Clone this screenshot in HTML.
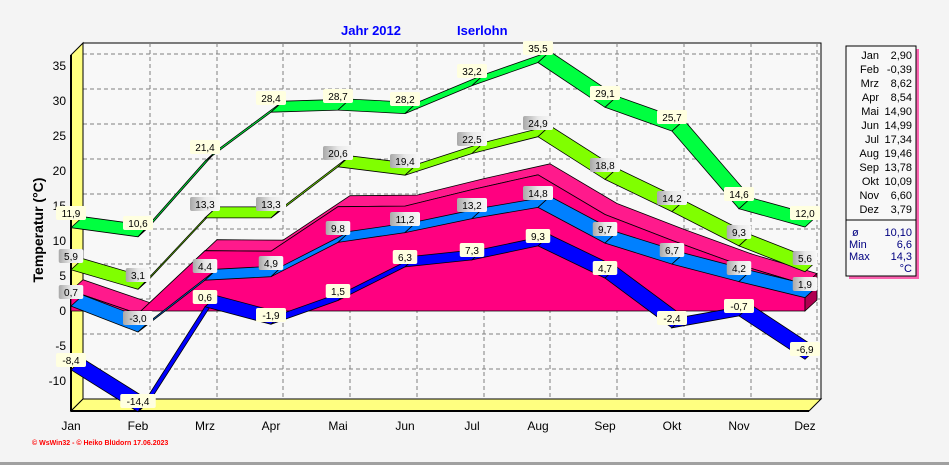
<!DOCTYPE html>
<html><head><meta charset="utf-8"><style>
body{margin:0;background:#f4f4f4;}
svg{display:block;font-family:"Liberation Sans",Arial,sans-serif;}
.lb{font-size:10px;text-anchor:middle;fill:#000;}
.ax{font-size:12px;fill:#000;}
</style></head><body>
<svg id="s" width="949" height="465" viewBox="0 0 949 465" xmlns="http://www.w3.org/2000/svg">
<defs>
<linearGradient id="gg" x1="0" x2="1" y1="0" y2="0"><stop offset="0" stop-color="#a8a8a8"/><stop offset="0.5" stop-color="#e8e8e8"/><stop offset="1" stop-color="#f8f8f8"/></linearGradient>
</defs>
<rect x="0" y="0" width="949" height="465" fill="#f4f4f4"/>
<rect x="0" y="462" width="949" height="3" fill="#a0a0a0"/>
<!-- back wall -->
<rect x="83" y="43" width="738" height="356" fill="#f8f8f8" stroke="#000" stroke-width="1"/>
<g id="grid" stroke="#808080" stroke-dasharray="4,3" stroke-width="1"></g>
<!-- left wall -->
<polygon points="71,55 83,43 83,399 71,411" fill="#ffff80" stroke="#000"/>
<polygon points="71,411 83,399 821,399 809,411" fill="#ffff80" stroke="#000"/>
<line x1="71" y1="55" x2="71" y2="411" stroke="#000" stroke-width="2"/>
<line x1="71" y1="411" x2="809" y2="411" stroke="#000" stroke-width="2"/>
<g id="shapes"></g>
<g id="labels">
<!-- green -->
<g class="gl">
</g>
</g>
<g class="ax" text-anchor="end">
<text x="66" y="70">35</text><text x="66" y="105">30</text><text x="66" y="140">25</text><text x="66" y="175">20</text><text x="66" y="210">15</text><text x="66" y="245">10</text><text x="66" y="280">5</text><text x="66" y="315">0</text><text x="66" y="350">-5</text><text x="66" y="385">-10</text>
</g>
<g class="ax" text-anchor="middle">
<text x="71" y="430">Jan</text><text x="138" y="430">Feb</text><text x="205" y="430">Mrz</text><text x="271" y="430">Apr</text><text x="338" y="430">Mai</text><text x="405" y="430">Jun</text><text x="472" y="430">Jul</text><text x="538" y="430">Aug</text><text x="605" y="430">Sep</text><text x="672" y="430">Okt</text><text x="739" y="430">Nov</text><text x="805" y="430">Dez</text>
</g>
<text x="43" y="230" transform="rotate(-90 43 230)" text-anchor="middle" font-size="14" font-weight="bold">Temperatur  (°C)</text>
<text x="341" y="35" font-size="13" font-weight="bold" fill="#0000ff">Jahr  2012</text>
<text x="457" y="35" font-size="13" font-weight="bold" fill="#0000ff">Iserlohn</text>
<text x="32" y="445" font-size="7" font-weight="bold" fill="#ff0000">© WsWin32  -  © Heiko Blüdorn  17.06.2023</text>
<!-- legend -->
<rect x="849" y="49" width="70" height="230" fill="#ff0080" opacity="0.6"/>
<rect x="846" y="46" width="70" height="230" fill="#f8f8f8" stroke="#000"/>
<line x1="846" y1="220" x2="916" y2="220" stroke="#000"/>
<g font-size="11" text-anchor="end">
<text x="879" y="59">Jan</text><text x="912" y="59">2,90</text>
<text x="879" y="73">Feb</text><text x="912" y="73">-0,39</text>
<text x="879" y="87">Mrz</text><text x="912" y="87">8,62</text>
<text x="879" y="101">Apr</text><text x="912" y="101">8,54</text>
<text x="879" y="115">Mai</text><text x="912" y="115">14,90</text>
<text x="879" y="129">Jun</text><text x="912" y="129">14,99</text>
<text x="879" y="143">Jul</text><text x="912" y="143">17,34</text>
<text x="879" y="157">Aug</text><text x="912" y="157">19,46</text>
<text x="879" y="171">Sep</text><text x="912" y="171">13,78</text>
<text x="879" y="185">Okt</text><text x="912" y="185">10,09</text>
<text x="879" y="199">Nov</text><text x="912" y="199">6,60</text>
<text x="879" y="213">Dez</text><text x="912" y="213">3,79</text>
</g>
<g font-size="11" fill="#000080">
<text x="852" y="236">ø</text><text x="912" y="236" text-anchor="end">10,10</text>
<text x="849" y="248">Min</text><text x="912" y="248" text-anchor="end">6,6</text>
<text x="849" y="260">Max</text><text x="912" y="260" text-anchor="end">14,3</text>
<text x="912" y="272" text-anchor="end">°C</text>
</g>
<g id="lab" class="lb">
<text x="71" y="217">11,9</text><text x="138" y="227">10,6</text><text x="205" y="151">21,4</text><text x="271" y="102">28,4</text><text x="338" y="100">28,7</text><text x="405" y="103">28,2</text><text x="472" y="75">32,2</text><text x="538" y="52">35,5</text><text x="605" y="97">29,1</text><text x="672" y="121">25,7</text><text x="739" y="198">14,6</text><text x="805" y="217">12,0</text>
<text x="71" y="260">5,9</text><text x="138" y="279">3,1</text><text x="205" y="208">13,3</text><text x="271" y="208">13,3</text><text x="338" y="157">20,6</text><text x="405" y="165">19,4</text><text x="472" y="143">22,5</text><text x="538" y="127">24,9</text><text x="605" y="169">18,8</text><text x="672" y="202">14,2</text><text x="739" y="236">9,3</text><text x="805" y="262">5,6</text>
<text x="71" y="296">0,7</text><text x="138" y="322">-3,0</text><text x="205" y="270">4,4</text><text x="271" y="267">4,9</text><text x="338" y="232">9,8</text><text x="405" y="223">11,2</text><text x="472" y="209">13,2</text><text x="538" y="197">14,8</text><text x="605" y="233">9,7</text><text x="672" y="254">6,7</text><text x="739" y="272">4,2</text><text x="805" y="288">1,9</text>
<text x="71" y="364">-8,4</text><text x="138" y="405">-14,4</text><text x="205" y="301">0,6</text><text x="271" y="319">-1,9</text><text x="338" y="295">1,5</text><text x="405" y="261">6,3</text><text x="472" y="254">7,3</text><text x="538" y="240">9,3</text><text x="605" y="272">4,7</text><text x="672" y="322">-2,4</text><text x="739" y="310">-0,7</text><text x="805" y="353">-6,9</text>
</g>
</svg>
<script>
(function(){
var NS="http://www.w3.org/2000/svg";
var X=[71,138,205,271,338,405,472,538,605,672,739,805];
var DX=12,DY=-11;
function Y(v){return 311-7*v;}
function el(p,t,a){var e=document.createElementNS(NS,t);for(var k in a)e.setAttribute(k,a[k]);p.appendChild(e);return e;}
var g=document.getElementById('grid');
for(var v=-10;v<=35;v+=5){var y=Y(v)-12;el(g,'line',{x1:83,y1:y,x2:821,y2:y});}
for(var i=1;i<12;i++){el(g,'line',{x1:X[i]+12,y1:43,x2:X[i]+12,y2:399});}
var s=document.getElementById('shapes');
function pts(a){return a.map(function(p){return p[0].toFixed(1)+','+p[1].toFixed(1)}).join(' ');}
// pink area
var M=[2.9,-0.39,8.62,8.54,14.9,14.99,17.34,19.46,13.78,10.09,6.6,3.79];
var top=[],back=[];
for(i=0;i<12;i++){top.push([X[i],Y(M[i])]);back.push([X[i]+DX,Y(M[i])+DY]);}
el(s,'polygon',{points:pts(top.concat(back.slice().reverse())),fill:'#ff1a8c',stroke:'#000','stroke-width':0.8});
var front=top.concat([[805,311],[71,311]]);
el(s,'polygon',{points:pts(front),fill:'#ff0080',stroke:'#000','stroke-width':0.8});
el(s,'polygon',{points:pts([[805,Y(3.79)],[817,Y(3.79)-11],[817,300],[805,311]]),fill:'#b00050',stroke:'#000','stroke-width':0.8});
function rib(vals,col){
  var f=[],b=[];
  for(var i=0;i<12;i++){f.push([X[i],Y(vals[i])]);b.push([X[i]+DX,Y(vals[i])+DY]);}
  for(var i=0;i<11;i++){
    el(s,'polygon',{points:pts([f[i],f[i+1],b[i+1],b[i]]),fill:col,stroke:'#000','stroke-width':0.8});
  }
}
rib([-8.4,-14.4,0.6,-1.9,1.5,6.3,7.3,9.3,4.7,-2.4,-0.7,-6.9],'#0000ff');
rib([0.7,-3.0,4.4,4.9,9.8,11.2,13.2,14.8,9.7,6.7,4.2,1.9],'#0080ff');
rib([5.9,3.1,13.3,13.3,20.6,19.4,22.5,24.9,18.8,14.2,9.3,5.6],'#80ff00');
rib([11.9,10.6,21.4,28.4,28.7,28.2,32.2,35.5,29.1,25.7,14.6,12.0],'#00ff40');
// label boxes
var lab=document.getElementById('lab');
var ts=lab.querySelectorAll('text');
for(var k=0;k<ts.length;k++){
  var t=ts[k];var x=+t.getAttribute('x'),y=+t.getAttribute('y');
  var grp=Math.floor(k/12);
  var fill=(grp==0||grp==3)?'#ffffe0':'url(#gg)';
  var w=t.textContent.length*5.5+8;
  var r=document.createElementNS(NS,'rect');
  r.setAttribute('x',x-w/2);r.setAttribute('y',y-11);r.setAttribute('width',w);r.setAttribute('height',14);
  r.setAttribute('rx',2);r.setAttribute('fill',fill);
  lab.insertBefore(r,t);
}
})();
</script>
</body></html>
